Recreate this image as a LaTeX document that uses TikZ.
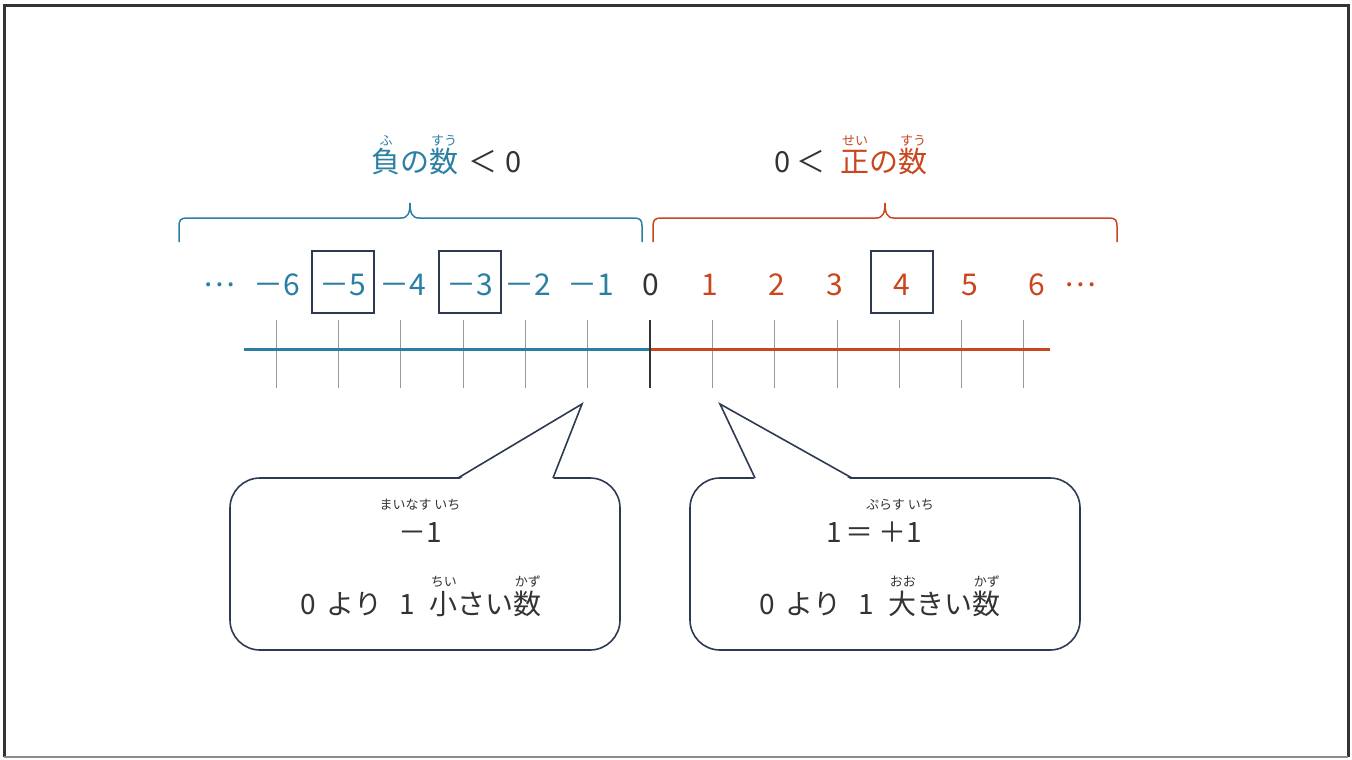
\documentclass[tikz,border=0pt]{standalone}
\usepackage{fontspec}
\setmainfont{Noto Sans CJK JP}
\definecolor{negblue}{HTML}{2A7FA3}
\definecolor{posred}{HTML}{C9461F}
\definecolor{ink}{HTML}{333333}
\definecolor{navy}{HTML}{2D3A52}
\newcommand{\rb}[3][1em]{\leavevmode\ooalign{#2\cr\hidewidth\raisebox{#1}{\fontsize{13}{13}\selectfont #3}\hidewidth\cr}}

\begin{document}
\begin{tikzpicture}[x=1pt,y=-1pt,
		numlab/.style={font=\fontsize{30}{30}\selectfont,anchor=base},
		head/.style={font=\fontsize{29}{29}\selectfont,anchor=base},
		say/.style={font=\fontsize{28}{28}\selectfont,anchor=base,text=ink},
		numbox/.style={draw=navy,line width=1.6pt,minimum width=62pt,minimum height=62pt},
		tickline/.style={draw=black!40,line width=1pt},
		bubble/.style={draw=navy,line width=1.6pt,rounded corners=30pt,minimum width=390pt,minimum height=172pt},
		bracket/.style={line width=1.5pt}]
	\useasboundingbox (0,0) rectangle (1352,760);
	\draw[ink,line width=3pt] (4,757) -- (4,6) -- (1348,6) -- (1348,757);
	\draw[black!45,line width=2pt] (4,757) -- (1348,757);
	\foreach \k in {-6,...,6}
		\draw[tickline] ({650+62.33*\k},320) -- ({650+62.33*\k},388);
	\draw[negblue,line width=3pt] (244,349) -- (650,349);
	\draw[posred,line width=3pt] (650,349) -- (1050,349);
	\draw[ink,line width=2.5pt] (650,320) -- (650,388);
	\foreach \v/\x/\c [count=\i] in {－6/277/negblue,－5/343/negblue,－4/403/negblue,－3/470/negblue,－2/528/negblue,－1/591/negblue,0/651/ink,1/710/posred,2/777/posred,3/835/posred,4/902/posred,5/970/posred,6/1037/posred}
		\node[numlab,text=\c] (num\i) at (\x,295) {\v};
	\node[numlab,text=negblue] (moreneg) at (219,295) {\raisebox{0.3em}{…}};
	\node[numlab,text=posred] (morepos) at (1080,295) {\raisebox{0.3em}{…}};
	\node[numbox] (boxm5) at (343,282) {};
	\node[numbox] (boxm3) at (470,282) {};
	\node[numbox] (boxp4) at (902,282) {};
	\draw[negblue,bracket] (179,242) -- (179,226) .. controls (179,220) and (181,218) .. (187,218) -- (401,218) .. controls (408,218) and (410,213) .. (410,203) .. controls (410,213) and (412,218) .. (419,218) -- (634,218) .. controls (640,218) and (642,220) .. (642,226) -- (642,242);
	\draw[posred,bracket] (653,242) -- (653,226) .. controls (653,220) and (655,218) .. (661,218) -- (876,218) .. controls (883,218) and (885,213) .. (885,203) .. controls (885,213) and (887,218) .. (894,218) -- (1109,218) .. controls (1115,218) and (1117,220) .. (1117,226) -- (1117,242);
	\node[head,text=negblue] (negname) at (415,172) {\rb[0.93em]{負}{ふ}の\rb[0.93em]{数}{すう}};
	\node[head,text=ink] (negrel) at (495,172) {＜\hspace{0.3em}0};
	\node[head,text=ink] (posrel) at (800,172) {0\hspace{0.2em}＜};
	\node[head,text=posred] (posname) at (884,172) {\rb[0.93em]{正}{せい}の\rb[0.93em]{数}{すう}};
	\node[bubble] (negbubble) at (425,564) {};
	\fill[white] (458,480) -- (582,404) -- (553,480) -- cycle;
	\draw[navy,line width=1.6pt] (458,478) -- (582,404) -- (553,478);
	\node[say] (negsign) at (420,542) {\rb[1.15em]{－1}{まいなす いち}};
	\node[say] (negtext) at (421,614) {0\hspace{0.4em}より\hspace{0.6em}1\hspace{0.55em}\rb{小}{ちい}さい\rb{数}{かず}};
	\node[bubble] (posbubble) at (885,564) {};
	\fill[white] (755,480) -- (720,404) -- (852,480) -- cycle;
	\draw[navy,line width=1.6pt] (755,478) -- (720,404) -- (852,478);
	\node[say] (possign) at (874,542) {1\hspace{0.15em}＝\hspace{0.15em}\rb[1.15em]{＋1}{ぷらす いち}};
	\node[say] (postext) at (880,614) {0\hspace{0.4em}より\hspace{0.6em}1\hspace{0.55em}\rb{大}{おお}きい\rb{数}{かず}};
\end{tikzpicture}
\end{document}
